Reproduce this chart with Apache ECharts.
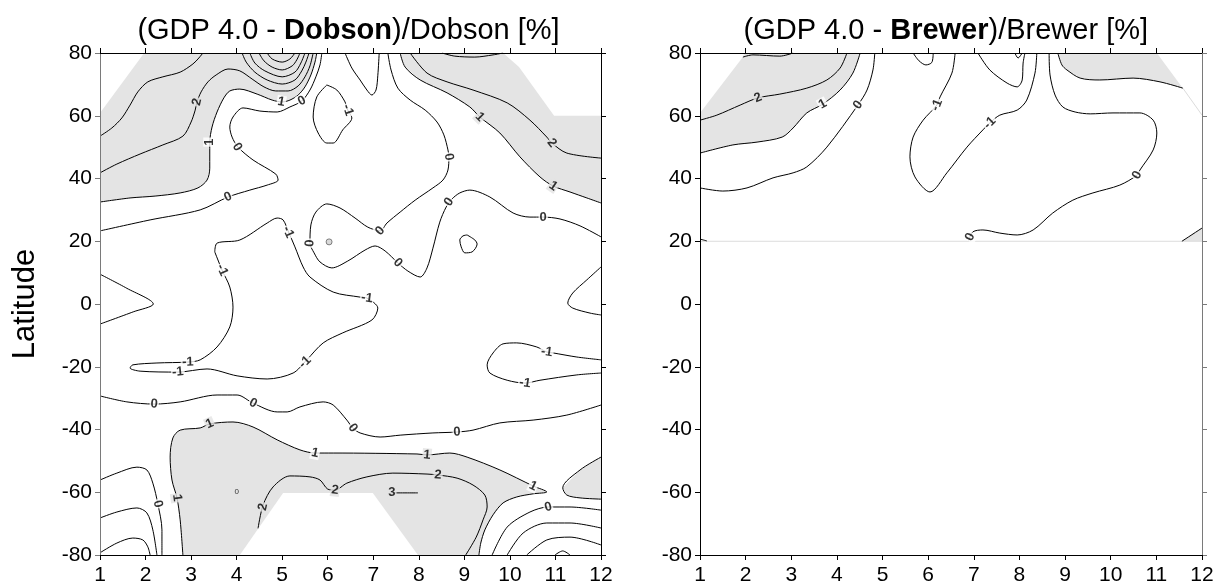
<!DOCTYPE html>
<html><head><meta charset="utf-8">
<script src="https://cdn.jsdelivr.net/npm/echarts@6/dist/echarts.min.js"></script>
<style>html,body{margin:0;padding:0;background:#fff}#c{width:1218px;height:586px}</style>
</head><body><div id="c"></div>
<script>
// ---- axes ----
const MONTH_MIN = 1, MONTH_MAX = 12, MONTH_STEP = 1;
const LAT_MIN = -80, LAT_MAX = 80, LAT_STEP = 20;

// ---- Dobson panel contour lines [month, latitude] ----
const dobC3nw = [[1,53.5],[1.26,56.1],[1.48,59.3],[1.66,63.4],[1.83,67.6],[2.05,70.8],[2.38,72.4],[2.76,73.9],[3.04,76.5],[3.17,78.4],[3.26,80]];
const dobC2nw = [[1,41.8],[1.37,44.6],[1.88,47.8],[2.38,50.7],[2.82,53.5],[3.0,58.0],[3.09,61.8],[3.13,64.4],[3.22,67.6],[3.37,70.8],[3.55,73.0],[3.81,74.9],[4.07,74.3],[4.34,71.7],[4.6,69.2],[4.86,67.9],[5.13,67.9],[5.35,69.5],[5.5,72.4],[5.61,75.9],[5.68,80]];
const dobPeak3 = [[4.12,80],[4.21,77.1],[4.4,73.9],[4.67,71.4],[5.0,70.1],[5.28,71.4],[5.43,74.3],[5.52,77.1],[5.59,80]];
const dobPeak4 = [[4.29,80],[4.4,76.8],[4.62,74.3],[5.0,72.4],[5.28,73.9],[5.41,76.8],[5.5,80]];
const dobPeak5 = [[4.49,80],[4.6,77.5],[4.78,75.5],[5.0,74.6],[5.22,75.9],[5.32,77.8],[5.39,80]];
const dobPeak6 = [[4.67,80],[4.78,78.1],[5.0,77.1],[5.17,78.1],[5.28,80]];
const dobC1nw = [[1,32.5],[1.66,33.8],[2.21,34.4],[2.76,35.4],[3.15,37.0],[3.35,39.5],[3.41,43.3],[3.41,47.5],[3.41,51.6],[3.46,56.4],[3.57,61.2],[3.72,65.7],[3.85,67.9],[4.07,68.5],[4.45,66.9],[4.78,65.0],[5.0,64.4],[5.17,65.0],[5.35,66.6],[5.5,69.2],[5.63,73.0],[5.72,77.1],[5.76,80]];
const dobC0nw = [[1,23.3],[2.1,26.8],[3.2,30.0],[3.81,34.1],[4.29,36.3],[4.67,37.9],[4.91,39.5],[4.86,41.4],[4.36,45.9],[4.03,50.0],[3.9,53.2],[3.85,56.4],[3.92,59.6],[4.14,62.5],[4.51,61.5],[4.89,61.2],[5.17,62.8],[5.43,64.7],[5.61,68.2],[5.74,72.4],[5.83,76.2],[5.87,80]];
const dobM1loop = [[5.98,69.8],[6.2,68.2],[6.38,64.4],[6.44,61.8],[6.53,59.3],[6.33,55.5],[6.12,51.3],[5.98,51.3],[5.79,54.5],[5.68,59.6],[5.76,66.0],[5.98,69.8]];
const dobM1v = [[6.38,80],[6.53,75.2],[6.71,71.4],[6.86,68.2],[6.97,66.6],[7.06,68.2],[7.10,72.9],[7.13,80]];
const dobC0c = [[7.32,80],[7.39,74.6],[7.54,68.8],[7.81,65.0],[8.14,61.8],[8.4,58.0],[8.55,53.9],[8.64,49.1],[8.66,46.9],[8.64,42.7],[8.53,39.5],[8.31,37.0],[7.92,33.1],[7.59,29.3],[7.3,25.8],[7.15,23.3],[6.88,24.5],[6.6,27.4],[6.27,30.6],[5.98,31.9],[5.74,29.3],[5.63,25.2],[5.61,19.4],[5.7,16.3],[5.83,13.4],[6.09,11.5],[6.44,13.7],[6.82,17.2],[7.04,18.5],[7.26,16.9],[7.54,13.1],[7.76,10.5],[8.03,8.6],[8.18,11.5],[8.31,17.8],[8.46,26.1],[8.6,30.9],[8.73,33.5],[8.9,35.4],[9.12,36.3],[9.56,34.1],[10.07,29.0],[10.44,27.7],[10.73,27.7],[11.1,27.1],[11.54,24.9],[12,21.4]];
const dobC0loop = [[9.06,22.0],[9.23,20.4],[9.28,19.1],[9.17,16.6],[9.01,16.3],[8.93,18.2],[8.9,20.4],[8.97,21.7],[9.06,22.0]];
const dobC1ne = [[7.59,80],[7.7,75.5],[8.03,71.4],[8.62,67.3],[9.12,62.8],[9.34,59.6],[9.78,54.5],[10.22,46.9],[10.66,40.5],[10.95,37.6],[11.32,35.7],[11.69,33.8],[12,32.2]];
const dobC2ne = [[7.81,80],[8.18,73.6],[8.62,70.8],[9.19,68.2],[9.94,64.1],[10.44,58.6],[10.81,53.2],[10.92,51.3],[11.25,48.1],[12,46.5]];
const dobC3ne = [[8.51,80],[8.79,79.0],[9.23,78.7],[9.63,79.4],[9.85,80]];
const dobTriW = [[1,9.5],[1.59,5.0],[2.17,0],[1.73,-2.5],[1,-6.4]];
const dobTriE = [[12,11.8],[11.69,7.7],[11.38,3.5],[11.27,0.3],[11.38,-1.3],[11.76,-2.9],[12,-3.5]];
const dobM1big = [[3.52,16.6],[3.57,19.4],[4.07,20.4],[4.67,25.8],[4.89,27.4],[5.02,26.8],[5.15,22.6],[5.28,18.2],[5.46,11.8],[5.61,8.6],[6.12,3.8],[6.71,2.2],[6.86,1.9],[7.1,-1.3],[6.97,-5.1],[6.33,-9.2],[5.9,-12.4],[5.54,-17.8],[5.24,-22.0],[4.67,-23.9],[4.01,-22.9],[3.35,-20.7],[2.71,-21.7],[1.88,-21.4],[1.66,-20.4],[1.72,-19.4],[2.25,-18.8],[2.93,-18.5],[3.2,-17.8],[3.57,-13.7],[3.85,-7.3],[3.92,-1.0],[3.85,5.4],[3.68,10.8],[3.52,16.6]];
const dobM1e = [[12,-17.8],[11.47,-16.9],[10.95,-15.6],[10.81,-15.3],[10.59,-13.7],[10.15,-12.4],[9.85,-12.7],[9.63,-15.6],[9.5,-19.4],[9.56,-22.0],[9.94,-24.3],[10.33,-25.2],[10.66,-24.3],[11.47,-22.6],[12,-22.0]];
const dobC0s = [[1,-29.3],[1.59,-31.2],[2.19,-31.9],[2.76,-31.2],[3.57,-29.0],[4.01,-29.0],[4.36,-31.6],[4.89,-34.4],[5.11,-34.4],[5.39,-32.8],[5.9,-31.2],[6.12,-32.2],[6.42,-37.0],[6.55,-39.5],[6.71,-41.1],[7.15,-42.4],[7.59,-41.8],[8.31,-41.1],[8.84,-40.8],[9.19,-40.2],[9.78,-37.9],[10.51,-37.0],[11.25,-35.4],[12,-32.2]];
const dobC1s = [[2.82,-80],[2.76,-68.8],[2.69,-61.8],[2.58,-56.1],[2.54,-48.8],[2.6,-42.7],[2.76,-40.2],[3.2,-39.5],[3.41,-38.2],[3.92,-37.6],[4.36,-39.2],[4.89,-43.3],[5.39,-46.5],[5.72,-47.5],[6.12,-47.5],[7.96,-47.8],[8.18,-48.1],[8.68,-47.5],[9.06,-48.8],[9.78,-52.9],[10.51,-58.0],[10.81,-59.9],[10.51,-60.5],[10.15,-61.5],[9.85,-63.4],[9.63,-67.2],[9.45,-72.0],[9.36,-76.2],[9.32,-80]];
const dobC2s = [[4.47,-71.5],[4.58,-64.1],[4.80,-58.3],[5.17,-54.8],[5.61,-55.1],[5.83,-56.1],[6.0,-59.0],[6.16,-59.3],[6.42,-57.1],[6.86,-55.1],[7.43,-53.9],[8.18,-54.2],[8.42,-54.5],[8.84,-55.5],[9.19,-57.7],[9.45,-60.9],[9.5,-64.7],[9.41,-68.8],[9.26,-74.3],[9.03,-80]];
const dobC3s = [[7.41,-60.2],[7.98,-60.2]];
const dobC1se = [[12,-48.8],[11.54,-52.9],[11.16,-58.6],[11.25,-60.9],[11.54,-61.8],[12,-62.2]];
const dobC0se = [[9.61,-80],[9.94,-71.1],[10.44,-66.3],[10.84,-64.7],[11.32,-64.7],[12,-65.7]];
const dobM1se = [[9.94,-80],[10.29,-73.0],[10.81,-69.8],[11.32,-69.8],[12,-71.4]];
const dobM2se = [[10.37,-80],[10.81,-75.2],[11.32,-74.3],[12,-76.8]];
const dobM3se = [[10.99,-80],[11.16,-78.7],[11.32,-80]];
const dobC0sw = [[1,-56.1],[1.37,-53.9],[1.81,-52.0],[2.03,-52.9],[2.16,-57.1],[2.27,-63.7],[2.36,-72.0],[2.36,-80]];
const dobM1sw = [[1,-68.2],[1.37,-66.3],[1.81,-65.0],[2.03,-66.6],[2.16,-72.0],[2.25,-80]];
const dobM2sw = [[1,-79.3],[1.37,-76.2],[1.72,-74.6],[1.94,-75.2],[2.05,-77.4],[2.1,-80]];
// missing-data area (no fill) and contour labels
const dobMissingS = [[4.07,-80],[5.02,-60.2],[6.99,-60.2],[7.98,-80]];
const dobDot = [[6.03,19.8]];
const dobTinyLabel = [[4.0,-59.9,'0']];
const dobLabels = [
 [3.13,64.4,'2'],[3.41,51.6,'1'],[4.01,50.0,'0'],[4.98,64.4,'1'],[5.43,64.7,'0'],[6.44,61.8,'-1'],
 [8.66,46.9,'0'],[9.34,59.6,'1'],[10.92,51.3,'2'],[10.95,37.6,'1'],[3.81,34.1,'0'],
 [7.15,23.3,'0'],[5.61,19.4,'0'],[7.54,13.1,'0'],[8.66,32.5,'0'],[10.73,27.7,'0'],
 [5.13,22.9,'-1'],[3.68,10.8,'-1'],[6.86,1.9,'-1'],[5.5,-18.5,'-1'],[2.93,-18.5,'-1'],[2.71,-21.7,'-1'],
 [10.81,-15.3,'-1'],[10.33,-25.2,'-1'],
 [2.19,-31.9,'0'],[4.36,-31.6,'0'],[6.55,-39.5,'0'],[8.84,-40.8,'0'],
 [3.41,-38.2,'1'],[5.72,-47.5,'1'],[8.18,-48.1,'1'],[10.51,-58.0,'1'],[2.69,-61.8,'1'],
 [4.58,-64.7,'2'],[6.16,-59.3,'2'],[8.42,-54.5,'2'],[7.41,-60.2,'3'],
 [2.27,-63.7,'0'],[10.84,-64.7,'0']
];

// ---- Brewer panel contour lines ----
const breC2 = [[1,58.6],[1.37,60.2],[1.88,63.4],[2.27,65.7],[2.75,66.9],[3.34,68.8],[3.78,71.4],[4.07,75.2],[4.22,80]];
const breC1 = [[1,48.1],[1.72,50.7],[2.25,51.6],[2.8,53.2],[3.04,56.1],[3.34,60.9],[3.69,63.7],[4.07,68.2],[4.35,73.6],[4.51,80]];
const breC0 = [[1,37.0],[1.5,36.0],[2.03,37.0],[2.6,40.2],[3.04,41.8],[3.34,43.7],[3.78,50.0],[4.46,63.4],[4.66,68.2],[4.79,74.6],[4.83,80]];
const breC3 = [[1.94,78.7],[2.16,79.4],[2.75,79.0],[3.04,80]];
const breU = [[5.67,80],[5.8,77.5],[5.95,76.2],[6.08,77.0],[6.11,80]];
const breM1 = [[6.59,80],[6.52,73.6],[6.26,66.0],[6.19,63.4],[5.89,58.6],[5.67,53.2],[5.6,46.9],[5.71,40.5],[6.04,35.7],[6.41,41.8],[6.85,50.0],[7.2,55.5],[7.35,57.7],[7.57,60.2],[7.95,61.8],[8.16,65.0],[8.34,73.6],[8.38,80]];
const breDip = [[7.09,80],[7.35,74.6],[7.73,70.4],[7.95,69.2],[8.06,71.4],[8.08,76.8],[8.12,80]];
const breTinyU = [[7.9,80],[7.97,78.4],[8.06,80]];
const breC0b = [[8.65,80],[8.67,73.0],[8.78,66.6],[8.95,62.8],[9.22,61.2],[9.55,60.6],[10.05,60.9],[10.64,60.9],[10.93,58.6],[11.01,54.5],[10.93,49.1],[10.64,42.7],[10.58,41.1],[10.2,37.9],[9.61,35.4],[9.17,33.1],[8.73,29.0],[8.3,23.6],[7.95,22.0],[7.57,22.6],[7.2,23.6],[6.98,23.0],[6.89,20.3]];
const breC1b = [[8.84,80],[8.93,76.2],[9.04,74.6],[9.33,72.0],[9.76,71.4],[10.49,72.0],[11.08,70.8],[11.58,68.8]];
const breTinyW = [[1,20.7],[1.15,20.1]];
const breCornerSE = [[11.56,20],[12,24.2]];
const breEdgeNE = [[11.58,68.8],[12,60.2]];
const breDataLimit = [[1,20],[12,20]];
const breLabels = [[2.27,65.7,'2'],[3.69,63.7,'1'],[4.46,63.4,'0'],[6.19,63.4,'-1'],[7.35,57.7,'-1'],[10.58,41.1,'0'],[6.92,21.4,'0']];

// ---- styling ----
const FONT = "'Liberation Sans', Arial, Helvetica, sans-serif";
const GRAY = '#e4e4e4';
const GRID_L = {left:100, top:53, width:501, height:502};
const GRID_R = {left:700, top:53, width:502, height:502};

const dobLines = [dobC3nw,dobC2nw,dobPeak3,dobPeak4,dobPeak5,dobPeak6,dobC1nw,dobC0nw,dobM1loop,dobM1v,dobC0c,dobC0loop,dobC1ne,dobC2ne,dobC3ne,dobTriW,dobTriE,dobM1big,dobM1e,dobC0s,dobC1s,dobC2s,dobC3s,dobC1se,dobC0se,dobM1se,dobM2se,dobM3se,dobC0sw,dobM1sw,dobM2sw];
const breLines = [breC2,breC1,breC0,breC3,breU,breM1,breDip,breTinyU,breC0b,breC1b,breTinyW,breCornerSE];

const dobPolys = [
  {pts:[[1,60.9],[1.97,80]].concat(dobC1nw.slice().reverse()), fill:GRAY},
  {pts:dobC1ne.concat([[12,60],[10.97,60],[10.2,75.5],[9.85,80]]), fill:GRAY},
  {pts:dobC1s, fill:GRAY},
  {pts:dobC1se, fill:GRAY},
  {pts:dobMissingS, fill:'#ffffff'}
];
const brePolys = [
  {pts:[[1,60.9],[1.94,78.7],[1.97,80]].concat(breC1.slice().reverse()), fill:GRAY},
  {pts:breC1b.concat([[11.01,80]]), fill:GRAY},
  {pts:breCornerSE.concat([[12,20]]), fill:GRAY}
];

function lineSeries(pts, ax, color, width, smooth) {
  return {type:'line', xAxisIndex:ax, yAxisIndex:ax, data:pts, showSymbol:false, symbol:'none',
    smooth: smooth === undefined ? 0.3 : smooth, silent:true, animation:false, z:3,
    lineStyle:{color:color||'#000', width:width||1}};
}
function polySeries(polys, ax) {
  return {type:'custom', xAxisIndex:ax, yAxisIndex:ax, coordinateSystem:'cartesian2d', silent:true, animation:false, z:1,
    data: polys.map(p => p.pts[0]),
    renderItem: (params, api) => {
      const p = polys[params.dataIndex];
      return {type:'polygon', shape:{points:p.pts.map(q => api.coord(q))}, style:{fill:p.fill, stroke:null}, silent:true};
    }};
}
function inside(pt, poly) {
  let c = false;
  for (let i = 0, j = poly.length - 1; i < poly.length; j = i++) {
    const [xi, yi] = poly[i], [xj, yj] = poly[j];
    if (((yi > pt[1]) !== (yj > pt[1])) && (pt[0] < (xj - xi) * (pt[1] - yi) / (yj - yi) + xi)) c = !c;
  }
  return c;
}
function fillAt(pt, polys) {
  let f = '#ffffff';
  polys.forEach(p => { if (inside(pt, p.pts)) f = p.fill; });
  return f;
}
function labelSeries(labels, lines, polys, ax, grid) {
  const sx = grid.width / (MONTH_MAX - MONTH_MIN), sy = grid.height / (LAT_MAX - LAT_MIN);
  const data = labels.map(([x, y, t]) => {
    let best = Infinity, ang = 0;
    lines.forEach(l => {
      for (let i = 0; i < l.length - 1; i++) {
        const ax0 = (l[i][0] - x) * sx, ay0 = (l[i][1] - y) * sy;
        const bx = (l[i+1][0] - x) * sx, by = (l[i+1][1] - y) * sy;
        const dx = bx - ax0, dy = by - ay0, L = dx*dx + dy*dy;
        let t0 = L ? -(ax0*dx + ay0*dy) / L : 0; t0 = Math.max(0, Math.min(1, t0));
        const px = ax0 + t0*dx, py = ay0 + t0*dy, d = px*px + py*py;
        if (d < best) { best = d; ang = Math.atan2(dy, dx) * 180 / Math.PI; }
      }
    });
    if (ang > 90) ang -= 180; if (ang <= -90) ang += 180;
    return {value:[x, y], label:{formatter:t, rotate:ang, backgroundColor:fillAt([x, y], polys)}};
  });
  return {type:'scatter', xAxisIndex:ax, yAxisIndex:ax, data, symbolSize:1, itemStyle:{color:'rgba(0,0,0,0)'},
    silent:true, animation:false, z:5,
    label:{show:true, position:'inside', fontSize:13, fontWeight:'bold', color:'#000', fontFamily:FONT, padding:[0,1]}};
}

function xAx(grid, pos, labels) {
  return {gridIndex:grid, type:'value', min:MONTH_MIN, max:MONTH_MAX, interval:MONTH_STEP, position:pos, z:10,
    axisLine:{show:true, onZero:false, lineStyle:{color:'#000', width:1}},
    axisTick:{show:true, inside:false, length:5, lineStyle:{color:'#000', width:1}},
    axisLabel:{show:labels, fontSize:21, color:'#000', fontFamily:FONT, margin:10},
    splitLine:{show:false}};
}
function yAx(grid, pos, labels, color) {
  return {gridIndex:grid, type:'value', min:LAT_MIN, max:LAT_MAX, interval:LAT_STEP, position:pos, z:10,
    axisLine:{show:true, onZero:false, lineStyle:{color:color, width:1}},
    axisTick:{show:true, inside:false, length:5, lineStyle:{color:color, width:1}},
    axisLabel:{show:labels, fontSize:21, color:'#000', fontFamily:FONT, margin:8},
    splitLine:{show:false}};
}

const series = [];
series.push(polySeries(dobPolys, 0));
dobLines.forEach(l => series.push(lineSeries(l, 0)));
series.push({type:'scatter', xAxisIndex:0, yAxisIndex:0, data:dobDot, symbolSize:6, silent:true, animation:false, z:4,
  itemStyle:{color:'#d0d0d0', borderColor:'#444', borderWidth:0.8}});
series.push(labelSeries(dobLabels, dobLines, dobPolys, 0, GRID_L));
series.push({type:'scatter', xAxisIndex:0, yAxisIndex:0, data:dobTinyLabel.map(d => ({value:[d[0], d[1]], label:{formatter:d[2]}})),
  symbolSize:1, itemStyle:{color:'rgba(0,0,0,0)'}, silent:true, animation:false, z:5,
  label:{show:true, position:'inside', fontSize:8, color:'#000', fontFamily:FONT}});

series.push(polySeries(brePolys, 2));
series.push(lineSeries(breDataLimit, 2, '#dcdcdc', 1, 0));
series.push(lineSeries(breEdgeNE, 2, '#dcdcdc', 1, 0));
breLines.forEach(l => series.push(lineSeries(l, 2)));
series.push(labelSeries(breLabels, breLines, brePolys, 2, GRID_R));

const option = {
  animation:false,
  backgroundColor:'#ffffff',
  grid:[Object.assign({containLabel:false}, GRID_L), Object.assign({containLabel:false}, GRID_R)],
  xAxis:[xAx(0,'bottom',true), xAx(0,'top',false), xAx(1,'bottom',true), xAx(1,'top',false)],
  yAxis:[yAx(0,'left',true,'#7a7a7a'), yAx(0,'right',false,'#000'), yAx(1,'left',true,'#000'), yAx(1,'right',false,'#7a7a7a')],
  graphic:[
    {type:'text', x:348.5, y:31, z:20, style:{text:'(GDP 4.0 - {b|Dobson})/Dobson [%]', fontSize:29, fontFamily:FONT, fill:'#000',
      align:'center', verticalAlign:'middle', rich:{b:{fontSize:29, fontFamily:FONT, fontWeight:'bold', fill:'#000'}}}},
    {type:'text', x:945.8, y:31, z:20, style:{text:'(GDP 4.0 - {b|Brewer})/Brewer [%]', fontSize:29, fontFamily:FONT, fill:'#000',
      align:'center', verticalAlign:'middle', rich:{b:{fontSize:29, fontFamily:FONT, fontWeight:'bold', fill:'#000'}}}},
    {type:'text', x:25, y:304, rotation:Math.PI/2, z:20, style:{text:'Latitude', fontSize:31, fontFamily:FONT, fill:'#000',
      align:'center', verticalAlign:'middle'}}
  ],
  series
};
const chart = echarts.init(document.getElementById('c'), null, {renderer:'canvas'});
chart.setOption(option);
</script></body></html>
